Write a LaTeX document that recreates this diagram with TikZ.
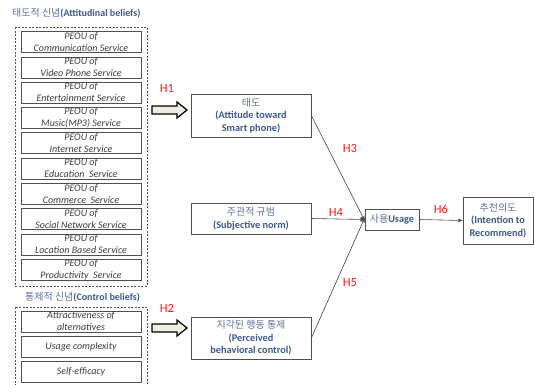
\documentclass[tikz,border=0pt]{standalone}
\usepackage{fontspec}
\setmainfont{Carlito}
\newfontfamily\kr{Noto Sans CJK KR}
\usetikzlibrary{arrows.meta}
\definecolor{tblue}{RGB}{62,88,140}
\definecolor{kblue}{RGB}{95,112,150}
\definecolor{boxgray}{RGB}{80,80,80}
\definecolor{peoutext}{RGB}{60,60,60}
\definecolor{conngray}{RGB}{70,70,70}
\definecolor{beige}{RGB}{238,236,225}
\definecolor{hred}{RGB}{240,30,30}
\newcommand{\kor}[1]{{\kr\mdseries\fontsize{10}{12.5}\selectfont\color{kblue}#1}}
\begin{document}
\begin{tikzpicture}[x=1pt,y=-1pt,
  peou/.style={draw=boxgray, line width=0.6pt, minimum width=120pt, minimum height=21pt, inner sep=0pt, align=center,
    font=\fontsize{10}{12}\selectfont\itshape, text=peoutext},
  dashbox/.style={draw=boxgray, line width=0.6pt, dash pattern=on 2pt off 1.5pt},
  cbox/.style={draw=boxgray, line width=0.7pt, inner sep=0pt, align=center, text=tblue,
    font=\fontsize{10.3}{12.5}\selectfont\bfseries},
  hlab/.style={text=hred, font=\fontsize{12.5}{13}\selectfont, inner sep=0pt},
  ttl/.style={text=tblue, font=\fontsize{10}{11}\selectfont\bfseries, inner sep=0pt, anchor=west},
  conn/.style={draw=conngray, line width=0.6pt, -{Stealth[length=5pt,width=4pt]}},
  blockarrow/.style={fill=beige, draw=black, line width=1.2pt, line join=miter}
]
\useasboundingbox (0,0) rectangle (535,384);
\clip (0,0) rectangle (535,384);

% titles
\node[ttl] (t1) at (12,13) {\kor{태도적 신념}(Attitudinal beliefs)};
\node[ttl] (t2) at (25,297) {\kor{통제적 신념}(Control beliefs)};

% dashed groups
\draw[dashbox] (15,27) rectangle (147,286);
\draw[dashbox] (15,307) rectangle (147,395);

% PEOU boxes
\foreach \i/\t in {0/Communication Service,1/Video Phone Service,2/Entertainment Service,3/Music(MP3) Service,
  4/Internet Service,5/Education~ Service,6/Commerce~ Service,7/Social Network Service,8/Location Based Service,
  9/Productivity~ Service}{
  \node[peou] (p\i) at (81,42+25.3*\i) {PEOU of\\\t};
}
\node[peou] (c1) at (81,321.5) {Attractiveness of\\alternatives};
\node[peou] (c2) at (81,346.5) {Usage complexity};
\node[peou] (c3) at (81,371.5) {Self-efficacy};

% block arrows
\draw[blockarrow] (152,106) -- (177,106) -- (177,102) -- (187,110) -- (177,118) -- (177,114) -- (152,114) -- cycle;
\draw[blockarrow] (152,324) -- (177,324) -- (177,320) -- (187,328) -- (177,336) -- (177,332) -- (152,332) -- cycle;

% construct boxes
\node[cbox, minimum width=120pt, minimum height=43pt] (att) at (251,115.5)
  {\kor{태도}\\(Attitude toward\\Smart phone)};
\node[cbox, minimum width=120pt, minimum height=31pt] (sn) at (251,218.5)
  {\kor{주관적 규범}\\(Subjective norm)};
\node[cbox, minimum width=120pt, minimum height=42pt] (pbc) at (251,338)
  {\kor{지각된 행동 통제}\\(Perceived\\behavioral control)};
\node[cbox, minimum width=54pt, minimum height=21pt] (use) at (392,219.5)
  {\kor{사용}Usage};
\node[cbox, minimum width=70pt, minimum height=47pt] (rec) at (498,220.5)
  {\kor{추천의도}\\(Intention to\\Recommend)};

% connectors
\draw[conn] (att.east) -- ([yshift=-1pt]use.west);
\draw[conn] (sn.east) -- (use.west);
\draw[conn] (pbc.east) -- ([yshift=1.5pt]use.west);
\draw[conn] (use.east) -- (rec.west);

% labels
\node[hlab] (h1) at (167,88) {H1};
\node[hlab] (h2) at (167,308) {H2};
\node[hlab] (h3) at (350,148) {H3};
\node[hlab] (h4) at (336,212) {H4};
\node[hlab] (h5) at (350,283) {H5};
\node[hlab] (h6) at (441,209) {H6};
\end{tikzpicture}
\end{document}
